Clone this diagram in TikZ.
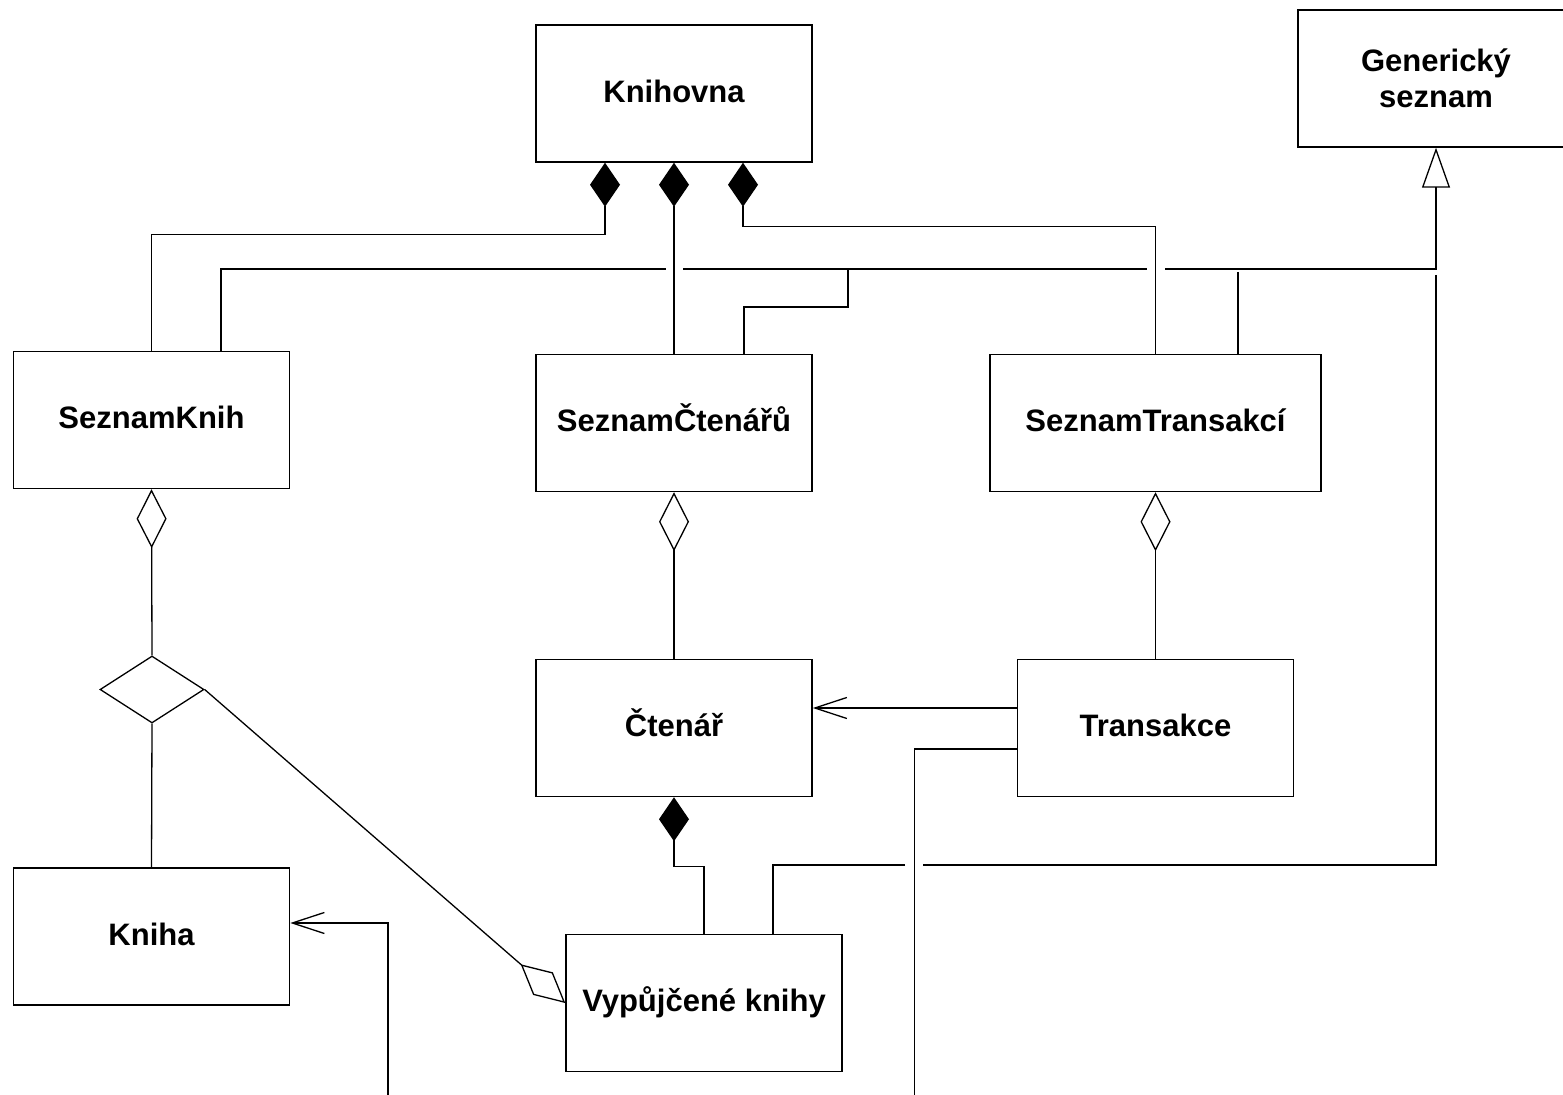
\documentclass[tikz,border=0pt]{standalone}
\usepackage{fontspec}
\setmainfont{Liberation Sans}
\usetikzlibrary{arrows.meta,calc,shapes.geometric}

\begin{document}
\begin{tikzpicture}[x=0.5pt,y=-0.5pt,
  cls/.style={draw, line width=0.75pt, minimum width=138pt, minimum height=68.5pt,
    inner sep=0pt, align=center, font=\fontsize{15.5}{18}\selectfont\bfseries},
  oneline/.style={cls, text height=11.1pt, text depth=2.5pt},
  conn/.style={line width=0.65pt},
  comp/.style={conn, {Diamond[length=22pt, width=15pt]}-},
  aggr/.style={conn, {Diamond[open, length=29.5pt, width=15pt]}-},
  gen/.style={conn, -{Triangle[open, length=20pt, width=14pt]}},
  nav/.style={conn, -{Straight Barb[length=16pt, width=10.5pt]}}
]
\useasboundingbox (0,0) rectangle (1563,1095);

% classes
\node[oneline] (kn) at (674,93.5)   {Knihovna};
\node[cls] (gs) at (1436,78.5)  {Generický\\seznam};
\node[oneline] (sk) at (151.5,420)  {SeznamKnih};
\node[oneline] (sc) at (674,423)    {SeznamČtenářů};
\node[oneline, minimum width=165.5pt] (st) at (1155.5,423) {SeznamTransakcí};
\node[oneline] (ct) at (674,728)    {Čtenář};
\node[oneline] (tr) at (1155.5,728) {Transakce};
\node[oneline] (kb) at (151.5,936.5) {Kniha};
\node[oneline] (vk) at (704,1003)   {Vypůjčené knihy};

% n-ary association diamond
\node[draw, diamond, line width=0.65pt, inner sep=0pt, minimum width=52pt, minimum height=33.5pt] (nary) at (152,689.5) {};

% free ends at the lower edge
\coordinate (endA) at (914.5,1100);
\coordinate (endB) at (388,1100);

% compositions of Knihovna
\draw[comp] ($(kn.south)+(-69,0)$) -- ++(0,71.5) -| (sk.north);
\draw[comp] (kn.south) -- (sc.north);
\draw[comp] ($(kn.south)+(69,0)$) -- ++(0,63.5) -| (st.north);

% generalisation to Generický seznam (upper tree)
\draw[gen] (1165,269) -| (gs.south);
\draw[conn] (683,269) -- (1147,269);
\draw[conn] ($(sk.north)+(69.5,0)$) |- (666,269);
\draw[conn] (848,269) |- (744,307) -- ($(sc.north)+(70,0)$);
\draw[conn] (1238,272) -- ($(st.north)+(82.5,0)$);

% generalisation (lower branch)
\draw[conn] (1436,275) |- (923,865);
\draw[conn] (905,865) -| ($(vk.north)+(69,0)$);

% aggregations
\draw[aggr] (sk.south) -- (nary.north);
\draw[conn] (nary.south) -- (kb.north);
\draw[aggr] (vk.west) -- (nary.east);
\draw[aggr] (sc.south) -- (ct.north);
\draw[aggr] (st.south) -- (tr.north);

% composition of Čtenář
\draw[comp] (ct.south) -- ++(0,69) -| (vk.north);

% navigable associations
\draw[nav] ($(tr.west)+(0,-20)$) -- ($(ct.east)+(0,-20)$);
\draw[conn] ($(tr.west)+(0,21)$) -| (endA);
\draw[nav] (endB) |- ($(kb.east)+(0,-13.5)$);
\end{tikzpicture}
\end{document}
